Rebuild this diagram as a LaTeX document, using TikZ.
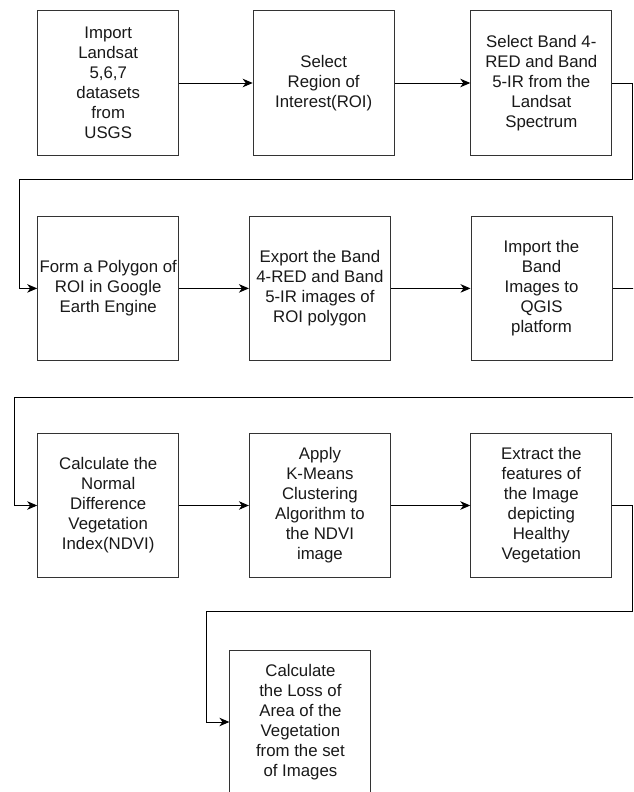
\documentclass[tikz,border=0pt]{standalone}
\usepackage{fontspec}
\setmainfont{Liberation Sans}
\usetikzlibrary{arrows.meta}
\tikzset{
  stepbox/.style={draw=black!80, line width=1pt, minimum width=141pt, minimum height=144pt,
    inner sep=0pt, align=center, font=\fontsize{16.8pt}{20pt}\selectfont, text=black!90},
  conn/.style={draw=black, line width=1pt, -{Stealth[length=10pt,width=8.5pt,inset=3pt]}}
}
\begin{document}
\begin{tikzpicture}[x=1pt,y=-1pt]
\clip (0,0) rectangle (633,792);
\fill[white] (0,0) rectangle (633,792);
\node[stepbox] (n1) at (108.2,83) {Import\\Landsat\\5,6,7\\datasets\\from\\USGS};
\node[stepbox] (n2) at (323.7,83) {Select\\Region of\\Interest(ROI)};
\node[stepbox] (n3) at (541.3,83) {Select Band 4-\\RED and Band\\5-IR from the\\Landsat\\Spectrum};
\node[stepbox] (n4) at (108.2,288.4) {Form a Polygon of\\ROI in Google\\Earth Engine};
\node[stepbox] (n5) at (319.9,288.4) {Export the Band\\4-RED and Band\\5-IR images of\\ROI polygon};
\node[stepbox] (n6) at (541.5,288.4) {Import the\\Band\\Images to\\QGIS\\platform};
\node[stepbox] (n7) at (108.2,505.5) {Calculate the\\Normal\\Difference\\Vegetation\\Index(NDVI)};
\node[stepbox] (n8) at (319.9,505.5) {Apply\\K-Means\\Clustering\\Algorithm to\\the NDVI\\image};
\node[stepbox] (n9) at (541.3,505.5) {Extract the\\features of\\the Image\\depicting\\Healthy\\Vegetation};
\node[stepbox] (n10) at (300.4,722) {Calculate\\the Loss of\\Area of the\\Vegetation\\from the set\\of Images};
\draw[conn] (n1.east) -- (n2.west);
\draw[conn] (n2.east) -- (n3.west);
\draw[conn] (n3.east) -| (632,179) -| (19.4,288.4) -- (n4.west);
\draw[conn] (n4.east) -- (n5.west);
\draw[conn] (n5.east) -- (n6.west);
\draw[conn] (n6.east) -| (640,397.3) -| (14,505.5) -- (n7.west);
\draw[conn] (n7.east) -- (n8.west);
\draw[conn] (n8.east) -- (n9.west);
\draw[conn] (n9.east) -| (632,611.5) -| (206.7,722) -- (n10.west);
\end{tikzpicture}
\end{document}
